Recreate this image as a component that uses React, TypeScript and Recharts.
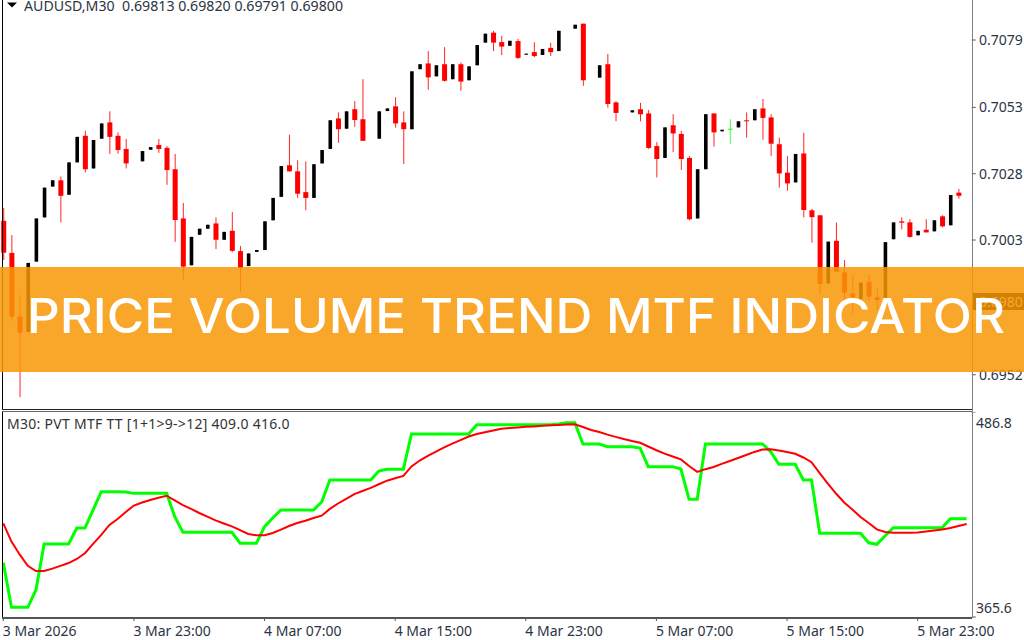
import React from 'react';
import { ComposedChart, Bar, Line, XAxis, YAxis } from 'recharts';

// prices are in points (1 = 0.00001), null = bar not visible in the picture
const candleOpen = [
  70103, 69981, 69739, 69681, 69948, 70116, 70233, 70257, 70202, 70325,
  70426, 70302, 70415, 70477, 70426, 70376, null, 70329, 70373, 70391,
  70380, 70299, 70112, 69934, 70050, 70073, 70093, 70031, 70065, 69988,
  69931, 69985, 69992, 70105, 70194, 70314, 70291, 70212, 70190, 70321,
  70376, 70492, 70453, 70527, 70489, null, 70415, 70520, 70538, 70477,
  70451, 70679, 70701, 70652, 70698, 70641, 70698, 70637, 70694, 70780,
  70818, 70782, 70768, 70786, 70734, 70744, 70733, 70760, 70748, null,
  70833, 70852, null, 70647, 70698, 70553, null, 70515, 70527, 70511,
  70387, 70342, 70466, 70433, 70342, 70112, 70299, 70511, 70443, 70453,
  70458, 70485, 70485, 70530, 70496, 70394, 70286, 70249, 70359, 70143,
  70124, 69865, 70027, 69907, 69827, 69805, 69871, 69812, 69805, 70033,
  70101, 70097, 70048, 70069, 70063, 70120, 70086, 70210, null,
];
const candleHigh = [
  70152, 70049, 69821, 69943, 70112, 70229, 70257, 70272, 70325, 70422,
  70445, 70410, 70473, 70519, 70439, 70414, null, 70368, 70383, 70414,
  70387, 70357, 70171, 70042, 70073, 70088, 70116, 70061, 70136, 70007,
  69979, 69992, 70101, 70190, 70311, 70430, 70333, 70329, 70318, 70372,
  70485, 70515, 70519, 70558, 70641, null, 70519, 70530, 70573, 70519,
  70671, 70698, 70748, 70694, 70763, 70698, 70705, 70690, 70771, 70814,
  70825, 70806, 70787, 70794, 70738, 70782, 70756, 70779, 70825, null,
  70848, 70852, null, 70694, 70737, 70557, null, 70523, 70551, 70524,
  70402, 70458, 70508, 70445, 70349, 70299, 70508, 70511, 70449, 70489,
  70481, 70515, 70527, 70566, 70508, 70419, 70349, 70357, 70438, 70149,
  70125, 70024, 70097, 69954, 69897, 69868, 69901, 69846, 70022, 70097,
  70116, 70109, 70065, 70109, 70105, 70124, 70201, 70224, null,
];
const candleLow = [
  69954, 69723, 69433, 69681, 69948, 70116, 70233, 70097, 70202, 70325,
  70287, 70302, 70415, 70357, 70358, 70302, null, 70329, 70373, 70361,
  70240, 70023, 69878, 69934, 70050, 70073, 69996, 70031, 69984, 69833,
  69931, 69985, 69992, 70105, 70194, 70291, 70190, 70143, 70190, 70321,
  70376, 70399, 70453, 70460, 70407, null, 70415, 70520, 70457, 70319,
  70451, 70679, 70601, 70652, 70632, 70641, 70597, 70637, 70694, 70780,
  70748, 70733, 70768, 70718, 70734, 70725, 70733, 70729, 70748, null,
  70833, 70616, null, 70647, 70533, 70481, null, 70515, 70481, 70376,
  70268, 70342, 70364, 70296, 70105, 70112, 70299, 70385, 70443, 70396,
  70458, 70419, 70485, 70411, 70349, 70229, 70217, 70249, 70116, 70020,
  69827, 69865, 69910, 69799, 69751, 69805, 69796, 69764, 69805, 70033,
  70071, 70039, 70048, 70059, 70063, 70078, 70086, 70187, null,
];
const candleClose = [
  69982, 69739, 69678, 69943, 70112, 70229, 70257, 70198, 70325, 70422,
  70299, 70410, 70473, 70422, 70372, 70321, null, 70368, 70383, 70376,
  70296, 70106, 69929, 70042, 70073, 70088, 70031, 70061, 69989, 69924,
  69979, 69992, 70101, 70190, 70311, 70291, 70206, 70190, 70318, 70372,
  70485, 70451, 70519, 70486, 70407, null, 70519, 70530, 70473, 70451,
  70671, 70698, 70648, 70694, 70635, 70698, 70632, 70690, 70771, 70814,
  70780, 70765, 70787, 70722, 70738, 70729, 70756, 70744, 70825, null,
  70848, 70637, null, 70694, 70547, 70513, null, 70523, 70508, 70380,
  70338, 70458, 70435, 70338, 70109, 70299, 70508, 70439, 70449, 70453,
  70481, 70481, 70527, 70494, 70396, 70283, 70245, 70357, 70144, 70117,
  69863, 70024, 69910, 69830, 69812, 69868, 69815, 69802, 70022, 70097,
  70096, 70042, 70065, 70059, 70105, 70082, 70201, 70198, null,
];

const pvtFast = [
  397.7, 371.3, 371.3, 371.3, 381.6, 408.8, 408.8, 408.8, 408.8, 418.2,
  418.2, 428.9, 439.7, 439.7, 439.7, 439.5, 438.7, 438.7, 438.7, 438.7,
  438.7, 424.9, 415.7, 415.7, 415.7, 415.7, 415.7, 415.7, 415.7, 409.2,
  409.2, 409.2, 419.0, 424.1, 428.9, 428.9, 428.9, 428.9, 428.9, 433.6,
  446.6, 446.6, 446.6, 446.6, 446.6, 446.6, 451.9, 452.9, 452.9, 452.9,
  473.8, 473.8, 473.8, 473.8, 473.8, 473.8, 473.8, 473.8, 479.3, 479.3,
  479.3, 479.3, 479.3, 479.3, 479.3, 479.3, 479.3, 479.3, 479.7, 480.5,
  480.5, 467.9, 467.9, 467.9, 466.3, 466.3, 466.3, 466.3, 465.5, 454.5,
  454.5, 454.5, 454.5, 453.1, 435.2, 435.2, 467.9, 467.9, 467.9, 467.9,
  467.9, 467.9, 467.9, 467.9, 463.3, 455.9, 455.9, 455.9, 446.6, 446.6,
  415.1, 415.1, 415.1, 415.1, 415.1, 415.1, 409.5, 408.6, 413.5, 418.4,
  418.4, 418.4, 418.4, 418.4, 418.4, 418.4, 423.7, 423.7, 423.7,
];
const pvtSlow = [
  421.0, 410.2, 402.6, 395.9, 392.8, 392.8, 394.2, 395.8, 397.5, 399.9,
  403.3, 408.8, 414.1, 420.0, 423.5, 427.7, 431.5, 433.3, 434.8, 436.1,
  437.3, 434.5, 431.8, 429.5, 427.1, 424.9, 422.7, 420.9, 419.2, 417.0,
  414.7, 413.9, 413.9, 415.3, 417.3, 419.4, 421.2, 422.5, 424.1, 425.5,
  429.5, 432.7, 435.5, 438.3, 440.1, 441.9, 444.1, 446.2, 447.6, 449.0,
  454.6, 458.1, 460.8, 463.4, 465.9, 468.1, 470.2, 472.3, 473.8, 474.8,
  475.9, 476.9, 477.3, 477.7, 478.1, 478.3, 478.6, 478.9, 479.1, 479.4,
  479.5, 477.9, 476.2, 475.0, 473.4, 472.1, 470.8, 469.7, 468.6, 466.4,
  464.2, 462.2, 460.5, 458.8, 454.9, 451.4, 453.0, 454.3, 456.1, 457.8,
  459.6, 461.4, 463.2, 464.6, 464.8, 464.0, 463.2, 462.1, 459.9, 457.1,
  450.7, 444.5, 438.6, 433.3, 429.2, 424.7, 421.2, 417.4, 415.9, 415.4,
  415.4, 415.4, 415.6, 416.1, 416.7, 417.3, 418.2, 419.4, 420.6,
];

const priceTicks = [70790, 70534, 70282, 70030, 69518];
const pvtTicks = [486.8, 365.6];
const timeTickIndexes = [0, 16, 32, 48, 64, 80, 96, 112];
const timeTickLabels = [
  '3 Mar 2026', '3 Mar 23:00', '4 Mar 07:00', '4 Mar 15:00',
  '4 Mar 23:00', '5 Mar 07:00', '5 Mar 15:00', '5 Mar 23:00',
];

const candles = candleOpen.map((open, i) => ({
  index: i,
  open,
  close: candleClose[i],
  high: candleHigh[i],
  low: candleLow[i],
  range: open === null ? null : [candleLow[i], candleHigh[i]],
}));
const pvtRows = pvtFast.map((fast, i) => ({ index: i, fast, slow: pvtSlow[i] }));

const FONT = '"Noto Sans", sans-serif';
const TEXT = '#2b3442';

const Candle = (props: any) => {
  const { x, y, width, height, payload } = props;
  if (payload.open === null) return null;
  const { open, close, high, low } = payload;
  const top = Math.min(y, y + height);
  const full = Math.abs(height);
  const perPoint = full / (high - low);
  const bodyTop = top + (high - Math.max(open, close)) * perPoint;
  const bodyH = Math.max(Math.abs(open - close) * perPoint, 1);
  const cx = x + width / 2;
  const color = close === open ? '#22ff22' : close < open ? '#ff0000' : '#000000';
  const bodyW = close > open ? 3.6 : 5;
  return (
    <g>
      <rect x={cx - 0.5} y={top} width={1} height={full} fill={color} opacity={0.85} />
      <rect x={cx - bodyW / 2} y={bodyTop} width={bodyW} height={bodyH} fill={color} />
    </g>
  );
};

// recharts hands ticks 8px away from the axis even with the tick line off
const PriceTick = (props: any) => {
  const { x, y, payload } = props;
  return (
    <g>
      <line x1={x - 7} x2={x - 3} y1={y} y2={y} stroke="#555" />
      <text x={x + 0.3} y={y + 5} fontSize={14} fontFamily={FONT} fill={TEXT}>
        {(payload.value / 100000).toFixed(4)}
      </text>
    </g>
  );
};

const PvtTick = (props: any) => {
  const { x, y, payload } = props;
  const dy = payload.value === pvtTicks[0] ? 16 : -4;
  return (
    <g>
      <line x1={x - 7} x2={x - 3} y1={y} y2={y} stroke="#555" />
      <text x={x - 2.7} y={y + dy} fontSize={14} fontFamily={FONT} fill={TEXT}>
        {payload.value.toFixed(1)}
      </text>
    </g>
  );
};

const TimeTick = (props: any) => {
  const { x, y, payload } = props;
  const label = timeTickLabels[timeTickIndexes.indexOf(payload.value)];
  return (
    <g>
      <line x1={x} x2={x} y1={y - 8} y2={y - 4} stroke="#555" />
      <text x={x - 0.5} y={y + 10.5} fontSize={14} fontFamily={FONT} fill={TEXT}>
        {label}
      </text>
    </g>
  );
};

const rule = (left: number, top: number, width: number, height: number, background: string) => (
  <div style={{ position: 'absolute', left, top, width, height, background }} />
);

export default function App() {
  return (
    <div style={{ position: 'absolute', left: 0, top: 0, width: 1024, height: 640, overflow: 'hidden', background: '#fff' }}>
      <div style={{ position: 'absolute', left: -1, top: 0 }}>
        <ComposedChart width={1025} height={409} data={candles} margin={{ top: 0, bottom: 0, left: 0.22, right: 1.28 }}>
          <XAxis dataKey="index" scale="band" hide />
          <YAxis
            orientation="right"
            width={52}
            domain={[69388, 70942]}
            ticks={priceTicks}
            axisLine={false}
            tickLine={false}
            tick={<PriceTick />}
            interval={0}
          />
          <Bar dataKey="range" barSize={5} shape={<Candle />} isAnimationActive={false} />
        </ComposedChart>
      </div>

      <div style={{ position: 'absolute', left: -1, top: 412 }}>
        <ComposedChart width={1025} height={228} data={pvtRows} margin={{ top: 0, bottom: 0, left: 0.22, right: 1.28 }}>
          <XAxis
            dataKey="index"
            scale="band"
            height={23}
            ticks={timeTickIndexes}
            interval={0}
            axisLine={false}
            tickLine={false}
            tick={<TimeTick />}
          />
          <YAxis
            orientation="right"
            width={52}
            domain={[365.6, 486.8]}
            ticks={pvtTicks}
            axisLine={false}
            tickLine={false}
            tick={<PvtTick />}
            interval={0}
          />
          <Line dataKey="fast" stroke="#00ff00" strokeWidth={3} dot={false} isAnimationActive={false} />
          <Line dataKey="slow" stroke="#ff0000" strokeWidth={2} dot={false} isAnimationActive={false} />
        </ComposedChart>
      </div>

      {/* pane frames */}
      {rule(2, 0, 1.3, 409, '#000')}
      {rule(2, 412, 1.3, 206, '#000')}
      {rule(2, 408.6, 970, 1.2, '#222')}
      {rule(2, 411, 970, 1.2, '#666')}
      {rule(2, 617, 970, 1.6, '#555')}
      {rule(971.6, 0, 1.6, 618, '#808080')}

      <svg width={20} height={10} style={{ position: 'absolute', left: 0, top: 0 }}>
        <polygon points="7,2.5 17,2.5 12,7.5" fill="#000" />
      </svg>
      <div style={{ position: 'absolute', left: 24, top: 0, font: `14.2px ${FONT}`, color: TEXT, whiteSpace: 'pre', lineHeight: '12px' }}>
        AUDUSD,M30  0.69813 0.69820 0.69791 0.69800
      </div>
      <div style={{ position: 'absolute', left: 7, top: 414, font: `14px ${FONT}`, letterSpacing: 0.28, color: '#333', whiteSpace: 'pre', lineHeight: '20px' }}>
        M30: PVT MTF TT [1+1&gt;9-&gt;12] 409.0 416.0
      </div>

      {/* current price tag, mostly hidden by the banner */}
      <div style={{ position: 'absolute', left: 973, top: 293, width: 51, height: 17, background: '#000', color: '#fff', font: `14px ${FONT}`, lineHeight: '17px', paddingLeft: 6, boxSizing: 'border-box' }}>
        0.6980
      </div>

      {/* title banner */}
      <svg width={1024} height={640} style={{ position: 'absolute', left: 0, top: 0 }}>
        <rect x={0} y={267} width={1024} height={105} fill="#f89806" fillOpacity={0.85} />
        <text
          x={27}
          y={333}
          textLength={978}
          lengthAdjust="spacingAndGlyphs"
          fontSize={48}
          fontWeight={500}
          fontFamily="Inter, sans-serif"
          fill="#fff"
        >
          PRICE VOLUME TREND MTF INDICATOR
        </text>
      </svg>
    </div>
  );
}
